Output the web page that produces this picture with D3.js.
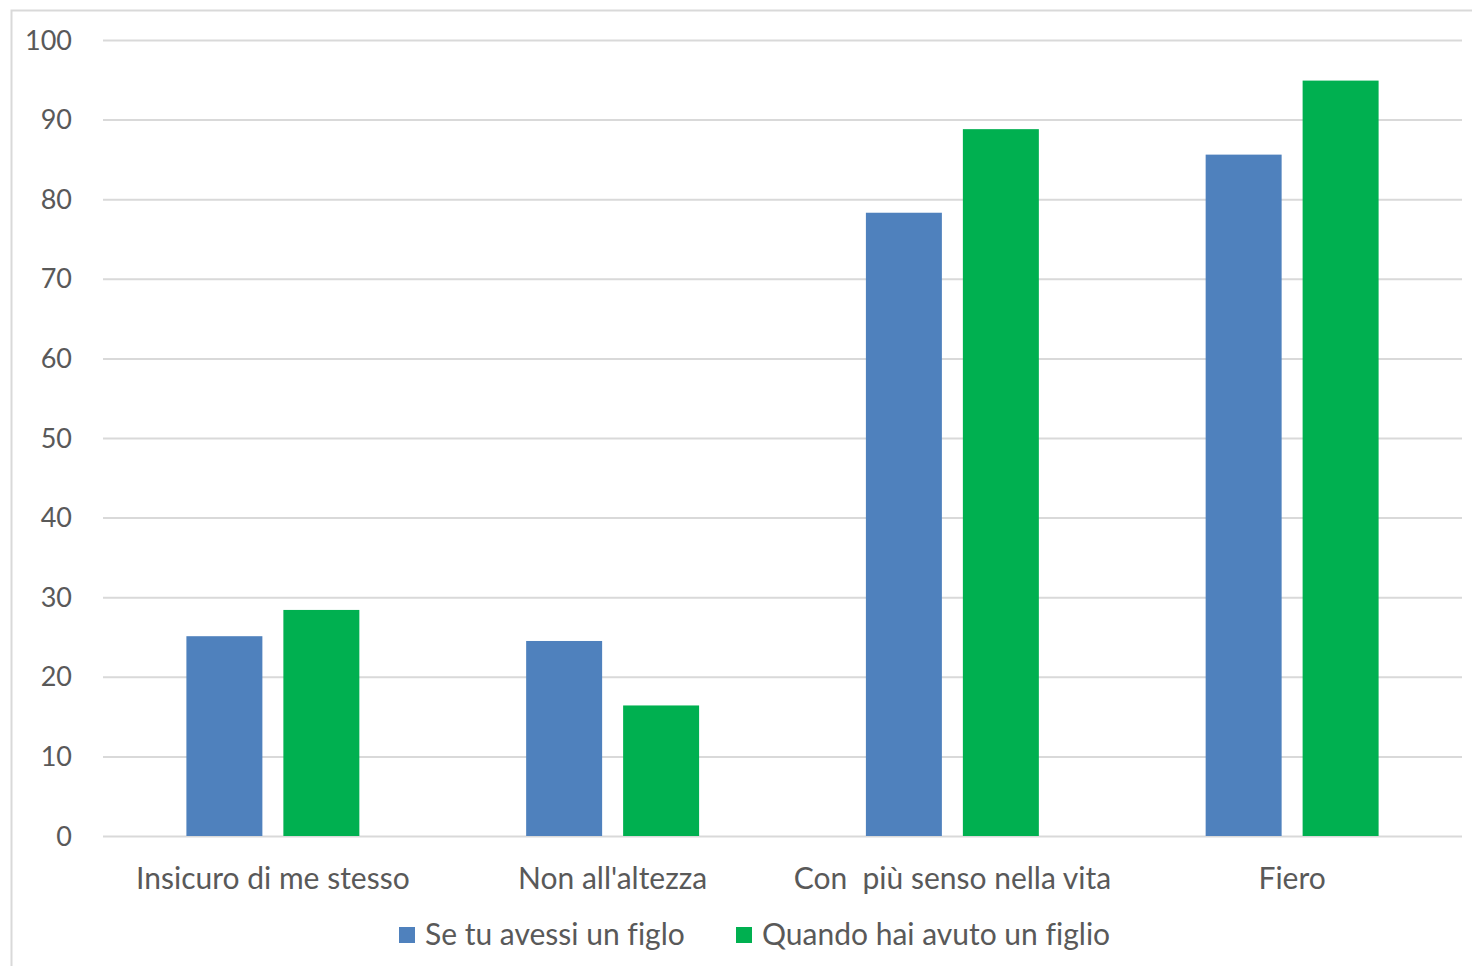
<!DOCTYPE html>
<html>
<head>
<meta charset="utf-8">
<script src="https://cdn.jsdelivr.net/npm/d3@7"></script>
<style>
  html, body { margin: 0; padding: 0; background: #ffffff; }
  svg { display: block; }
  text { font-family: Lato, "Open Sans", sans-serif; fill: #595959; font-variant-ligatures: none; }
</style>
</head>
<body>
<svg id="chart" width="1472" height="966"></svg>
<script>
const categories = ["Insicuro di me stesso", "Non all'altezza", "Con  più senso nella vita", "Fiero"];
const seriesNames = ["Se tu avessi un figlo", "Quando hai avuto un figlio"];
const seTuAvessi = [25.1, 24.5, 78.3, 85.6];
const quandoHai = [28.4, 16.4, 88.8, 94.9];
const yTicks = [0, 10, 20, 30, 40, 50, 60, 70, 80, 90, 100];
const colors = ["#4f81bd", "#00b050"];

const svg = d3.select("#chart");
const W = 1472, H = 966;
const plotLeft = 103, plotRight = 1462, plotTop = 40, plotBottom = 836;

// outer chart frame (runs past the right and bottom edges)
svg.append("rect")
  .attr("x", 11.5).attr("y", 10.5)
  .attr("width", W + 20).attr("height", H + 20)
  .attr("fill", "none").attr("stroke", "#d9d9d9").attr("stroke-width", 2);

const x0 = d3.scaleBand().domain(categories).range([plotLeft, plotRight]).paddingInner(0).paddingOuter(0);
const x1 = d3.scaleBand().domain(seriesNames).range([0, x0.bandwidth()]).paddingInner(0.2165).paddingOuter(0.86);
const y = d3.scaleLinear().domain([0, 100]).range([plotBottom, plotTop]);

// horizontal gridlines and value labels
const yAxis = d3.axisLeft(y).tickValues(yTicks).tickSize(-(plotRight - plotLeft)).tickPadding(30).tickFormat(d3.format("d"));
const gy = svg.append("g").attr("transform", `translate(${plotLeft},0)`).call(yAxis);
gy.select(".domain").remove();
gy.selectAll(".tick line").attr("stroke", "#d9d9d9").attr("stroke-width", 2);
gy.selectAll(".tick text").attr("font-size", 27).attr("fill", "#595959").attr("x", -31).attr("dy", "0.34em");

// bars
const data = categories.map((c, i) => ({ cat: c, vals: [seTuAvessi[i], quandoHai[i]] }));
const groups = svg.append("g").selectAll("g").data(data).join("g")
  .attr("transform", d => `translate(${x0(d.cat)},0)`);
groups.selectAll("rect").data(d => d.vals.map((v, j) => ({ v, s: seriesNames[j], j })))
  .join("rect")
  .attr("x", d => x1(d.s))
  .attr("width", x1.bandwidth())
  .attr("y", d => y(d.v))
  .attr("height", d => y(0) - y(d.v))
  .attr("fill", d => colors[d.j]);

// category labels
const xAxis = d3.axisBottom(x0).tickSize(0).tickPadding(0);
const gx = svg.append("g").attr("transform", `translate(0,${plotBottom})`).call(xAxis);
gx.select(".domain").remove();
gx.selectAll(".tick text").attr("font-size", 30).attr("fill", "#595959").attr("y", 43).attr("dy", "0.34em")
  .style("white-space", "pre");

// legend
const legendItems = [{ name: seriesNames[0], x: 399 }, { name: seriesNames[1], x: 736 }];
const lg = svg.append("g");
legendItems.forEach((it, i) => {
  lg.append("rect").attr("x", it.x).attr("y", 927).attr("width", 16).attr("height", 16).attr("fill", colors[i]);
  lg.append("text").attr("x", it.x + 26).attr("y", 935).attr("dy", "0.34em").attr("font-size", 30).text(it.name);
});
</script>
</body>
</html>
